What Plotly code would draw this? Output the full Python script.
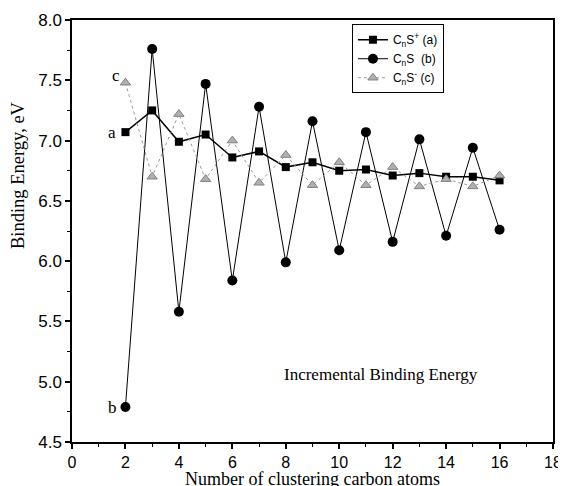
import plotly.graph_objects as go

n_atoms = [2, 3, 4, 5, 6, 7, 8, 9, 10, 11, 12, 13, 14, 15, 16]
cation_a = [7.07, 7.25, 6.99, 7.05, 6.86, 6.91, 6.78, 6.82, 6.75, 6.76, 6.71, 6.73, 6.70, 6.70, 6.67]
neutral_b = [4.79, 7.76, 5.58, 7.47, 5.84, 7.28, 5.99, 7.16, 6.09, 7.07, 6.16, 7.01, 6.21, 6.94, 6.26]
anion_c = [7.48, 6.70, 7.22, 6.68, 7.00, 6.65, 6.88, 6.63, 6.82, 6.63, 6.78, 6.62, 6.68, 6.62, 6.71]

x_ticks = [0, 2, 4, 6, 8, 10, 12, 14, 16, 18]
y_ticks = [4.5, 5.0, 5.5, 6.0, 6.5, 7.0, 7.5, 8.0]

fig = go.Figure()
fig.add_trace(go.Scatter(
    x=n_atoms, y=cation_a, mode="lines+markers", name="C<sub>n</sub>S<sup>+</sup> (a)",
    line=dict(color="black", width=1.5),
    marker=dict(symbol="square", size=8, color="black")))
fig.add_trace(go.Scatter(
    x=n_atoms, y=neutral_b, mode="lines+markers", name="C<sub>n</sub>S  (b)",
    line=dict(color="black", width=1),
    marker=dict(symbol="circle", size=10, color="black")))
fig.add_trace(go.Scatter(
    x=n_atoms, y=anion_c, mode="lines+markers", name="C<sub>n</sub>S<sup>-</sup> (c)",
    line=dict(color="#9a9a9a", width=1, dash="dot"),
    marker=dict(symbol="triangle-up", size=9, color="#b0b0b0",
                line=dict(color="#808080", width=1))))

serif = "Liberation Serif, Times New Roman, serif"
sans = "Liberation Sans, Arial, sans-serif"

fig.add_annotation(x=n_atoms[0], y=cation_a[0], text="a", showarrow=False,
                   xshift=-13, font=dict(family=serif, size=17, color="black"))
fig.add_annotation(x=n_atoms[0], y=neutral_b[0], text="b", showarrow=False,
                   xshift=-13, font=dict(family=serif, size=17, color="black"))
fig.add_annotation(x=n_atoms[0], y=anion_c[0], text="c", showarrow=False,
                   xshift=-9, yshift=7, font=dict(family=serif, size=17, color="black"))
fig.add_annotation(x=11.56, y=5.056, text="Incremental Binding Energy", showarrow=False,
                   font=dict(family=serif, size=17, color="black"))
# axis titles
fig.add_annotation(x=0.5, xref="paper", xanchor="center", y=-0.06, yref="paper", yanchor="top",
                   text="Number of clustering carbon atoms", showarrow=False,
                   font=dict(family=serif, size=18, color="black"))
fig.add_annotation(x=-0.112, xref="paper", xanchor="center", y=0.633, yref="paper",
                   yanchor="middle", textangle=-90,
                   text="Binding Energy, eV", showarrow=False,
                   font=dict(family=serif, size=18.5, color="black"))

# the page body adds an 8px offset; size the figure so the plot lands in place
fig.update_layout(
    width=558, height=478,
    margin=dict(l=64, r=13, t=12, b=44, autoexpand=False),
    paper_bgcolor="white", plot_bgcolor="white",
    showlegend=True,
    legend=dict(x=0.582, y=0.99, xanchor="left", yanchor="top",
                bordercolor="black", borderwidth=1, bgcolor="white",
                font=dict(family=sans, size=12, color="black"),
                tracegroupgap=0, itemwidth=30),
    font=dict(family=sans, color="black"),
)
fig.update_xaxes(
    range=[0, 18], tickvals=x_ticks, ticktext=[str(v) for v in x_ticks],
    showgrid=False, zeroline=False, showline=True, linecolor="black", linewidth=1.5,
    mirror=True, ticks="outside", ticklen=5, tickwidth=1.5, tickcolor="black",
    minor=dict(dtick=1, ticks="outside", ticklen=3, tickcolor="black", tickwidth=1),
    tickfont=dict(family=sans, size=16, color="black"),
)
fig.update_yaxes(
    range=[4.5, 8.0], tickvals=y_ticks, ticktext=[f"{v:.1f}" for v in y_ticks],
    showgrid=False, zeroline=False, showline=True, linecolor="black", linewidth=1.5,
    mirror=True, ticks="outside", ticklen=5, tickwidth=1.5, tickcolor="black",
    minor=dict(dtick=0.25, ticks="outside", ticklen=3, tickcolor="black", tickwidth=1),
    tickfont=dict(family=sans, size=17, color="black"),
)

fig.write_html("out.html")
